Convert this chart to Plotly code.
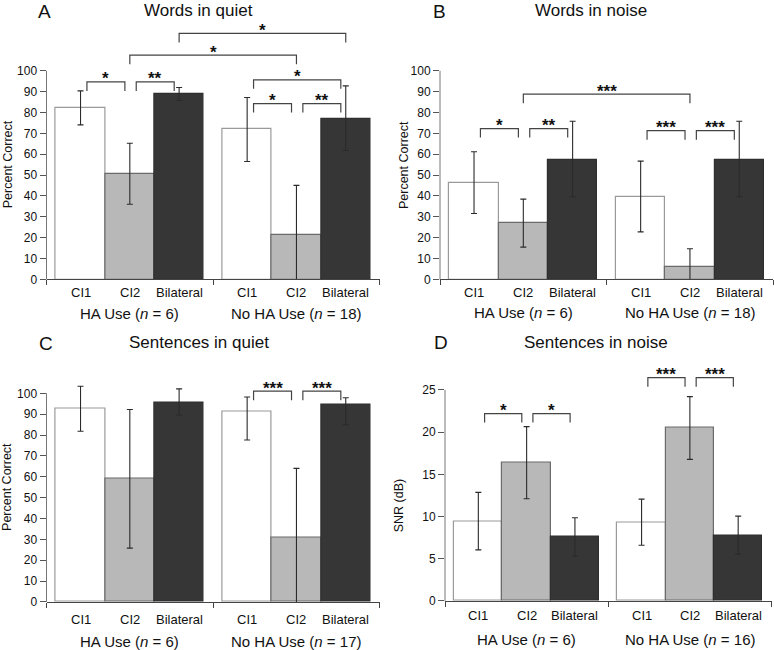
import plotly.graph_objects as go

W, H = 774, 650
H_FIG = 658          # figure height in px
S = H_FIG / H        # vertical scale between reference pixels and figure pixels

conditions = ["CI1", "CI2", "Bilateral"]
group_names = ["HA Use", "No HA Use"]

# ---- Panel A: Words in quiet (percent correct) ----
a_vals = [82.2, 50.6, 88.8, 72.0, 21.4, 77.0]
a_plus = [8.2, 14.7, 3.2, 15.2, 23.7, 15.8]
a_minus = [8.1, 14.6, 3.0, 15.5, 23.3, 15.2]
a_n = [6, 18]
a_brackets = [(0, 1, 94.7, "*"), (1, 2, 94.7, "**"), (3, 4, 84.3, "*"), (4, 5, 84.3, "**"),
              (3, 5, 95.7, "*"), (1, 4, 107.5, "*"), (2, 5, 117.9, "*")]

# ---- Panel B: Words in noise (percent correct) ----
b_vals = [46.5, 26.9, 57.5, 39.7, 6.1, 57.5]
b_plus = [14.7, 11.6, 18.3, 17.0, 8.6, 18.3]
b_minus = [14.9, 11.4, 17.9, 16.9, 9.0, 17.9]
b_n = [6, 18]
b_brackets = [(0, 1, 72.3, "*"), (1, 2, 72.3, "**"), (3, 4, 71.3, "***"), (4, 5, 71.3, "***"),
              (1, 4, 88.8, "***")]

# ---- Panel C: Sentences in quiet (percent correct) ----
c_vals = [92.5, 58.9, 95.7, 91.0, 31.0, 94.6]
c_plus = [10.9, 33.3, 6.4, 7.2, 33.0, 3.3]
c_minus = [10.7, 33.1, 6.1, 13.4, 32.9, 9.7]
c_n = [6, 17]
c_brackets = [(3, 4, 101.0, "***"), (4, 5, 101.0, "***")]

# ---- Panel D: Sentences in noise (SNR dB) ----
d_vals = [9.45, 16.38, 7.6, 9.34, 20.5, 7.79]
d_plus = [3.41, 4.27, 2.25, 2.72, 3.7, 2.26]
d_minus = [3.4, 4.28, 2.3, 2.74, 3.73, 2.25]
d_n = [6, 16]
d_brackets = [(0, 1, 22.2, "*"), (1, 2, 22.2, "*"), (3, 4, 26.45, "***"), (4, 5, 26.45, "***")]

y_ticks_pct = list(range(0, 101, 10))
y_ticks_snr = [0, 5, 10, 15, 20, 25]

FONT = "Arial, Liberation Sans, sans-serif"
fills = ["#ffffff", "#b8b8b8", "#363636"]
lines = ["#9a9a9a", "#6a6a6a", "#2e2e2e"]

GROUP_W = 3.38
PAD = 0.19
XMAX = 2 * GROUP_W

panels = [
    dict(letter="A", title="Words in quiet", vals=a_vals, plus=a_plus, minus=a_minus, n=a_n,
         brackets=a_brackets, ticks=y_ticks_pct, ytitle="Percent Correct",
         x0=46.5, bw=49.3, y0=279.0, ppu=2.083, top=122,
         letter_pos=(44.3, 0), title_pos=(198, 0), ytitle_pos=(7.5, 164.5),
         cat_y=292.3, grp_y=313),
    dict(letter="B", title="Words in noise", vals=b_vals, plus=b_plus, minus=b_minus, n=b_n,
         brackets=b_brackets, ticks=y_ticks_pct, ytitle="Percent Correct",
         x0=440.0, bw=49.3, y0=279.0, ppu=2.083, top=122,
         letter_pos=(439, 0), title_pos=(591, 0), ytitle_pos=(403.3, 164.5),
         cat_y=292.3, grp_y=312),
    dict(letter="C", title="Sentences in quiet", vals=c_vals, plus=c_plus, minus=c_minus, n=c_n,
         brackets=c_brackets, ticks=y_ticks_pct, ytitle="Percent Correct",
         x0=46.5, bw=49.3, y0=601.0, ppu=2.083, top=108,
         letter_pos=(45.5, 331), title_pos=(199, 331.5), ytitle_pos=(7.5, 486.7),
         cat_y=618.3, grp_y=640.5),
    dict(letter="D", title="Sentences in noise", vals=d_vals, plus=d_plus, minus=d_minus, n=d_n,
         brackets=d_brackets, ticks=y_ticks_snr, ytitle="SNR (dB)",
         x0=445.0, bw=48.3, y0=600.0, ppu=8.428, top=28,
         letter_pos=(441, 330), title_pos=(596, 331), ytitle_pos=(398.5, 505),
         cat_y=615, grp_y=638.3),
]

centers = [g * GROUP_W + PAD + j + 0.5 for g in range(2) for j in range(3)]

fig = go.Figure()
layout = dict(width=W, height=H_FIG, margin=dict(l=0, r=0, t=0, b=0),
              paper_bgcolor="white", plot_bgcolor="white", showlegend=False,
              font=dict(family=FONT, color="#111"), bargap=0)
shapes = []
annotations = []


def px(xp):
    return xp / W


def py(yp):
    return (H_FIG - yp * S) / H_FIG


for i, p in enumerate(panels):
    k = "" if i == 0 else str(i + 1)
    xa, ya = "x" + k, "y" + k
    xd = [px(p["x0"]), min(1.0, px(p["x0"] + XMAX * p["bw"]))]
    ybot = py(p["y0"])
    ytop = py(p["y0"] - p["top"] * p["ppu"])
    layout["xaxis" + k] = dict(domain=xd, range=[0, XMAX], anchor=ya, showgrid=False, zeroline=False,
                               showline=True, linecolor="#444", linewidth=1,
                               tickmode="array", tickvals=[], ticks="",
                               minor=dict(tickmode="array", tickvals=[0, GROUP_W, XMAX], ticks="outside",
                                          ticklen=5, tickcolor="#444", showgrid=False),
                               fixedrange=True)
    tmax = p["ticks"][-1]
    layout["yaxis" + k] = dict(domain=[ybot, ytop], range=[0, p["top"]], anchor=xa, showgrid=False,
                               zeroline=False, showline=False, tickmode="array", tickvals=p["ticks"],
                               ticks="outside", ticklen=6, tickcolor="#555", tickwidth=1,
                               tickfont=dict(size=12, color="#111"), fixedrange=True)
    # y axis line from 0 to the top tick
    shapes.append(dict(type="line", xref="paper", yref="paper", x0=xd[0], x1=xd[0],
                       y0=ybot, y1=py(p["y0"] - tmax * p["ppu"]),
                       line=dict(color="#777", width=1)))
    for j, cond in enumerate(conditions):
        xs = [centers[j], centers[3 + j]]
        ys = [p["vals"][j], p["vals"][3 + j]]
        fig.add_trace(go.Bar(x=xs, y=ys, width=1, xaxis=xa, yaxis=ya, cliponaxis=False,
                             marker=dict(color=fills[j], line=dict(color=lines[j], width=1.2)),
                             error_y=dict(type="data", symmetric=False,
                                          array=[p["plus"][j], p["plus"][3 + j]],
                                          arrayminus=[p["minus"][j], p["minus"][3 + j]],
                                          color="#2a2a2a", thickness=1.1, width=3),
                             hoverinfo="skip"))
        for xc in xs:
            annotations.append(dict(x=xc, xref=xa, y=py(p["cat_y"]), yref="paper", text=cond,
                                    showarrow=False, font=dict(size=13, color="#111"),
                                    xanchor="center", yanchor="middle"))
    for g in range(2):
        annotations.append(dict(x=g * GROUP_W + GROUP_W / 2, xref=xa, y=py(p["grp_y"]), yref="paper",
                                text=f"{group_names[g]} (<i>n</i> = {p['n'][g]})", showarrow=False,
                                font=dict(size=15, color="#111"), xanchor="center", yanchor="middle"))
    # significance brackets
    leg = 9.0 / p["ppu"]
    for (l, r, lev, lab) in p["brackets"]:
        if l < 3 <= r:
            xl, xr = centers[l], centers[r]
        else:
            xl, xr = centers[l] + 0.13, centers[r] - 0.1
        shapes.append(dict(type="path", xref=xa, yref=ya,
                           path=f"M {xl} {lev - leg} L {xl} {lev} L {xr} {lev} L {xr} {lev - leg}",
                           line=dict(color="#444", width=1.2)))
        annotations.append(dict(x=(xl + xr) / 2, xref=xa, y=lev, yref=ya, text=f"<b>{lab}</b>",
                                showarrow=False, font=dict(size=17, color="#111"), xanchor="center",
                                yanchor="middle", yshift=3))
    # titles, letters, y titles
    annotations.append(dict(x=px(p["letter_pos"][0]), y=py(p["letter_pos"][1]), xref="paper", yref="paper",
                            text=p["letter"], showarrow=False, font=dict(size=19, color="#111"),
                            xanchor="center", yanchor="top", borderpad=0))
    annotations.append(dict(x=px(p["title_pos"][0]), y=py(p["title_pos"][1]), xref="paper", yref="paper",
                            text=p["title"], showarrow=False, font=dict(size=17, color="#111"),
                            xanchor="center", yanchor="top", borderpad=0))
    annotations.append(dict(x=px(p["ytitle_pos"][0]), y=py(p["ytitle_pos"][1]), xref="paper", yref="paper",
                            text=p["ytitle"], showarrow=False, font=dict(size=12.5, color="#111"),
                            textangle=-90, xanchor="center", yanchor="middle", borderpad=0))

layout["shapes"] = shapes
layout["annotations"] = annotations
fig.update_layout(**layout)
page_js = ("var d=document.documentElement,b=document.body;"
           "d.style.margin='0';d.style.padding='0';d.style.overflow='hidden';"
           "b.style.margin='0';b.style.padding='0';b.style.overflow='hidden';")
fig.write_html("out.html", config={"displayModeBar": False}, post_script=page_js)
